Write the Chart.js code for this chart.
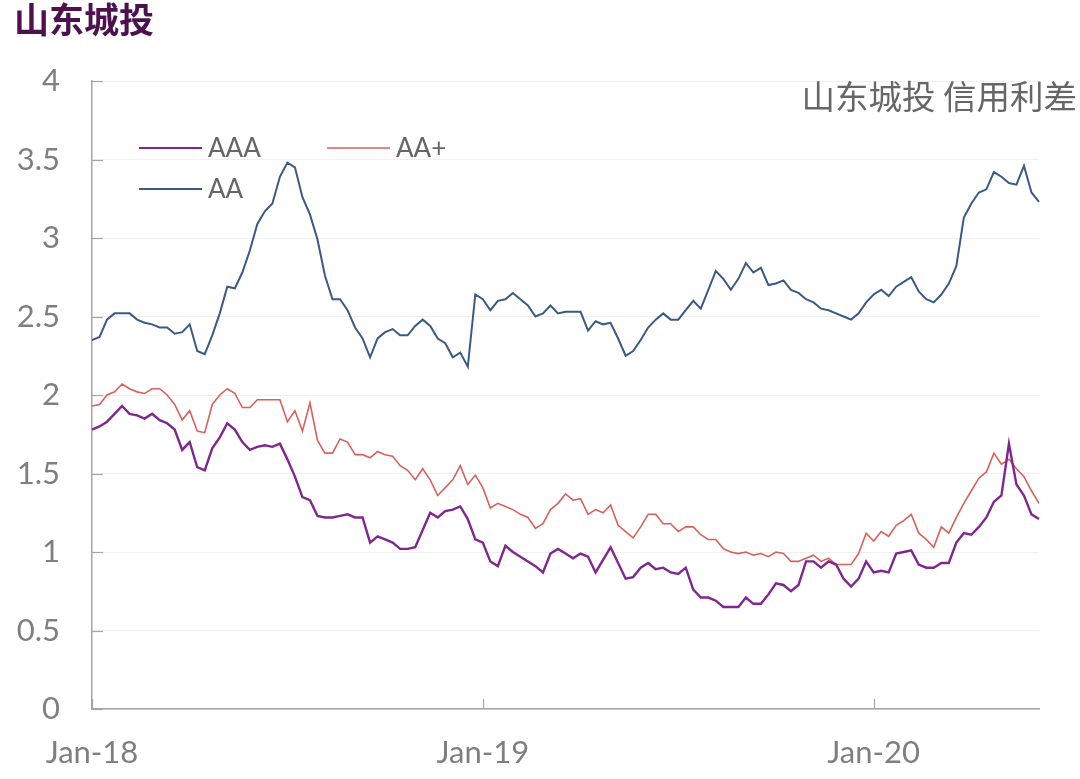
<!DOCTYPE html>
<html>
<head>
<meta charset="utf-8">
<script src="https://cdn.jsdelivr.net/npm/chart.js@4.4.1/dist/chart.umd.min.js"></script>
<style>
  html, body { margin: 0; padding: 0; background: #ffffff; }
  #wrap { position: relative; width: 1080px; height: 779px; }
</style>
</head>
<body>
<div id="wrap"><canvas id="c" width="1080" height="779"></canvas></div>
<script>
// ---------- DATA ----------
const chartTitle = '山东城投';
const chartSubtitle = '山东城投 信用利差';
const seriesNames = ['AAA', 'AA+', 'AA'];

// weekly observation dates (Fridays)
const weeks = [
  '2018-01-05','2018-01-12','2018-01-19','2018-01-26','2018-02-02','2018-02-09','2018-02-16','2018-02-23',
  '2018-03-02','2018-03-09','2018-03-16','2018-03-23','2018-03-30','2018-04-06','2018-04-13','2018-04-20',
  '2018-04-27','2018-05-04','2018-05-11','2018-05-18','2018-05-25','2018-06-01','2018-06-08','2018-06-15',
  '2018-06-22','2018-06-29','2018-07-06','2018-07-13','2018-07-20','2018-07-27','2018-08-03','2018-08-10',
  '2018-08-17','2018-08-24','2018-08-31','2018-09-07','2018-09-14','2018-09-21','2018-09-28','2018-10-05',
  '2018-10-12','2018-10-19','2018-10-26','2018-11-02','2018-11-09','2018-11-16','2018-11-23','2018-11-30',
  '2018-12-07','2018-12-14','2018-12-21','2018-12-28',
  '2019-01-04','2019-01-11','2019-01-18','2019-01-25','2019-02-01','2019-02-08','2019-02-15','2019-02-22',
  '2019-03-01','2019-03-08','2019-03-15','2019-03-22','2019-03-29','2019-04-05','2019-04-12','2019-04-19',
  '2019-04-26','2019-05-03','2019-05-10','2019-05-17','2019-05-24','2019-05-31','2019-06-07','2019-06-14',
  '2019-06-21','2019-06-28','2019-07-05','2019-07-12','2019-07-19','2019-07-26','2019-08-02','2019-08-09',
  '2019-08-16','2019-08-23','2019-08-30','2019-09-06','2019-09-13','2019-09-20','2019-09-27','2019-10-04',
  '2019-10-11','2019-10-18','2019-10-25','2019-11-01','2019-11-08','2019-11-15','2019-11-22','2019-11-29',
  '2019-12-06','2019-12-13','2019-12-20','2019-12-27',
  '2020-01-03','2020-01-10','2020-01-17','2020-01-24','2020-01-31','2020-02-07','2020-02-14','2020-02-21',
  '2020-02-28','2020-03-06','2020-03-13','2020-03-20','2020-03-27','2020-04-03','2020-04-10','2020-04-17',
  '2020-04-24','2020-05-01','2020-05-08','2020-05-15','2020-05-22','2020-05-29','2020-06-05'
];

const aaa = [
  1.78,1.80,1.83,1.88,1.93,1.88,1.87,1.85,1.88,1.84,1.82,1.78,1.65,1.70,1.54,1.52,
  1.66,1.73,1.82,1.78,1.70,1.65,1.67,1.68,1.67,1.69,1.59,1.48,1.35,1.33,1.23,1.22,
  1.22,1.23,1.24,1.22,1.22,1.06,1.10,1.08,1.06,1.02,1.02,1.03,1.14,1.25,1.22,1.26,
  1.27,1.29,1.21,1.08,1.06,0.94,0.91,1.04,1.00,0.97,0.94,0.91,0.87,0.99,1.02,0.99,
  0.96,0.99,0.97,0.87,0.95,1.03,0.93,0.83,0.84,0.90,0.93,0.89,0.90,0.87,0.86,0.90,
  0.76,0.71,0.71,0.69,0.65,0.65,0.65,0.71,0.67,0.67,0.73,0.80,0.79,0.75,0.79,0.94,
  0.94,0.90,0.94,0.92,0.83,0.78,0.83,0.94,0.87,0.88,0.87,0.99,1.00,1.01,0.92,0.90,
  0.90,0.93,0.93,1.06,1.12,1.11,1.16,1.22,1.32,1.36,1.69,1.43,1.36,1.24,1.21
];

const aaPlus = [
  1.93,1.94,2.00,2.02,2.07,2.04,2.02,2.01,2.04,2.04,2.00,1.94,1.84,1.90,1.77,1.76,
  1.94,2.00,2.04,2.01,1.92,1.92,1.97,1.97,1.97,1.97,1.83,1.90,1.77,1.95,1.71,1.63,
  1.63,1.72,1.70,1.62,1.62,1.60,1.64,1.62,1.61,1.55,1.52,1.46,1.53,1.46,1.36,1.41,
  1.46,1.55,1.43,1.49,1.41,1.28,1.31,1.29,1.27,1.24,1.22,1.15,1.18,1.27,1.31,1.37,
  1.33,1.34,1.24,1.27,1.25,1.30,1.17,1.13,1.09,1.16,1.24,1.24,1.18,1.18,1.13,1.16,
  1.16,1.11,1.08,1.08,1.02,1.00,0.99,1.00,0.98,0.99,0.97,1.00,0.99,0.94,0.94,0.96,
  0.98,0.94,0.96,0.92,0.92,0.92,0.99,1.12,1.07,1.13,1.10,1.17,1.20,1.24,1.12,1.08,
  1.03,1.16,1.12,1.22,1.31,1.39,1.47,1.51,1.63,1.56,1.59,1.53,1.48,1.39,1.31
];

const aa = [
  2.35,2.37,2.48,2.52,2.52,2.52,2.48,2.46,2.45,2.43,2.43,2.39,2.40,2.45,2.28,2.26,
  2.38,2.52,2.69,2.68,2.78,2.92,3.09,3.17,3.22,3.39,3.48,3.45,3.26,3.15,2.99,2.76,
  2.61,2.61,2.54,2.43,2.36,2.24,2.36,2.40,2.42,2.38,2.38,2.44,2.48,2.44,2.36,2.33,
  2.24,2.27,2.18,2.64,2.61,2.54,2.60,2.61,2.65,2.61,2.57,2.50,2.52,2.57,2.52,2.53,
  2.53,2.53,2.41,2.47,2.45,2.46,2.36,2.25,2.28,2.35,2.43,2.48,2.52,2.48,2.48,2.54,
  2.60,2.55,2.67,2.79,2.74,2.67,2.74,2.84,2.78,2.81,2.70,2.71,2.73,2.67,2.65,2.61,
  2.59,2.55,2.54,2.52,2.50,2.48,2.52,2.59,2.64,2.67,2.63,2.69,2.72,2.75,2.66,2.61,
  2.59,2.64,2.71,2.82,3.13,3.22,3.29,3.31,3.42,3.39,3.35,3.34,3.46,3.29,3.23
];

const yTickMin = 0, yTickMax = 4, yTickStep = 0.5;
const monthNames = ['Jan','Feb','Mar','Apr','May','Jun','Jul','Aug','Sep','Oct','Nov','Dec'];

// ---------- STYLE ----------
const colors = ['#80278F', '#D9615B', '#3A5A86'];
const widths = [2.4, 1.6, 2.0];
const axisGray = '#A6A6A6';
const labelGray = '#7F7F7F';
const latinFont = 'Lato, "Open Sans", sans-serif';
const cjkFont = '"Noto Sans CJK SC", "Noto Sans", sans-serif';

function tickLabelFor(idx) {
  const d = weeks[idx];
  const m = parseInt(d.slice(5, 7), 10), day = parseInt(d.slice(8, 10), 10);
  if (m === 1 && day <= 7) return monthNames[0] + '-' + d.slice(2, 4);
  return '';
}

const overlay = {
  id: 'overlay',
  afterDraw(chart) {
    const ctx = chart.ctx;
    const ca = chart.chartArea;
    const ys = chart.scales.y, xs = chart.scales.x;
    ctx.save();
    // inward tick marks on y axis
    ctx.strokeStyle = axisGray;
    ctx.lineWidth = 1.2;
    ys.ticks.forEach(t => {
      const py = Math.round(ys.getPixelForValue(t.value)) + 0.5;
      ctx.beginPath(); ctx.moveTo(ca.left, py); ctx.lineTo(ca.left + 11, py); ctx.stroke();
    });
    // inward tick marks on x axis at labelled dates
    weeks.forEach((w, i) => {
      if (tickLabelFor(i)) {
        const px = Math.round(xs.getPixelForValue(i)) + 0.5;
        ctx.beginPath(); ctx.moveTo(px, ca.bottom); ctx.lineTo(px, ca.bottom - 10); ctx.stroke();
      }
    });
    // main title
    ctx.fillStyle = '#4E1150';
    ctx.font = 'bold 35px ' + cjkFont;
    ctx.textAlign = 'left';
    ctx.textBaseline = 'middle';
    ctx.fillText(chartTitle, 14, 20);
    // subtitle inside plot
    ctx.fillStyle = '#666666';
    ctx.font = '33.5px ' + cjkFont;
    ctx.textAlign = 'right';
    ctx.fillText(chartSubtitle, 1077, 96);
    // legend
    const slots = [{x: 139, y: 148}, {x: 327, y: 148}, {x: 139, y: 189}];
    ctx.font = '26px ' + latinFont;
    ctx.textAlign = 'left';
    chart.data.datasets.forEach((ds, i) => {
      const s = slots[i];
      ctx.strokeStyle = ds.borderColor;
      ctx.lineWidth = Math.min(ds.borderWidth, 2);
      ctx.beginPath(); ctx.moveTo(s.x, s.y); ctx.lineTo(s.x + 63, s.y); ctx.stroke();
      ctx.fillStyle = '#666666';
      ctx.fillText(ds.label, s.x + 69, s.y + 1);
    });
    ctx.restore();
  }
};

const chart = new Chart(document.getElementById('c'), {
  type: 'line',
  data: {
    labels: weeks,
    datasets: [
      { label: seriesNames[0], data: aaa, borderColor: colors[0], borderWidth: widths[0] },
      { label: seriesNames[1], data: aaPlus, borderColor: colors[1], borderWidth: widths[1] },
      { label: seriesNames[2], data: aa, borderColor: colors[2], borderWidth: widths[2] }
    ].map(d => Object.assign(d, { pointRadius: 0, pointHoverRadius: 0, tension: 0, fill: false, backgroundColor: d.borderColor }))
  },
  options: {
    responsive: false,
    animation: false,
    devicePixelRatio: 1,
    layout: { padding: { top: 81, right: 41, left: 0, bottom: 0 } },
    plugins: { legend: { display: false }, title: { display: false }, tooltip: { enabled: false } },
    scales: {
      x: {
        type: 'category',
        offset: false,
        grid: { display: false, drawTicks: false },
        border: { display: true, color: axisGray, width: 1.5 },
        ticks: {
          autoSkip: false, maxRotation: 0, minRotation: 0, padding: 25,
          color: labelGray, font: { family: latinFont, size: 31 },
          callback: (v, i) => tickLabelFor(i)
        },
        afterFit: s => { s.height = 70; }
      },
      y: {
        min: yTickMin, max: yTickMax,
        grid: { color: '#EFEFEF', lineWidth: 1, drawTicks: false },
        border: { display: true, color: axisGray, width: 1.5 },
        ticks: {
          stepSize: yTickStep, padding: 32,
          color: labelGray, font: { family: latinFont, size: 31 },
          callback: v => String(Math.round(v * 10) / 10)
        },
        afterFit: s => { s.width = 92; }
      }
    }
  },
  plugins: [overlay]
});
</script>
</body>
</html>
